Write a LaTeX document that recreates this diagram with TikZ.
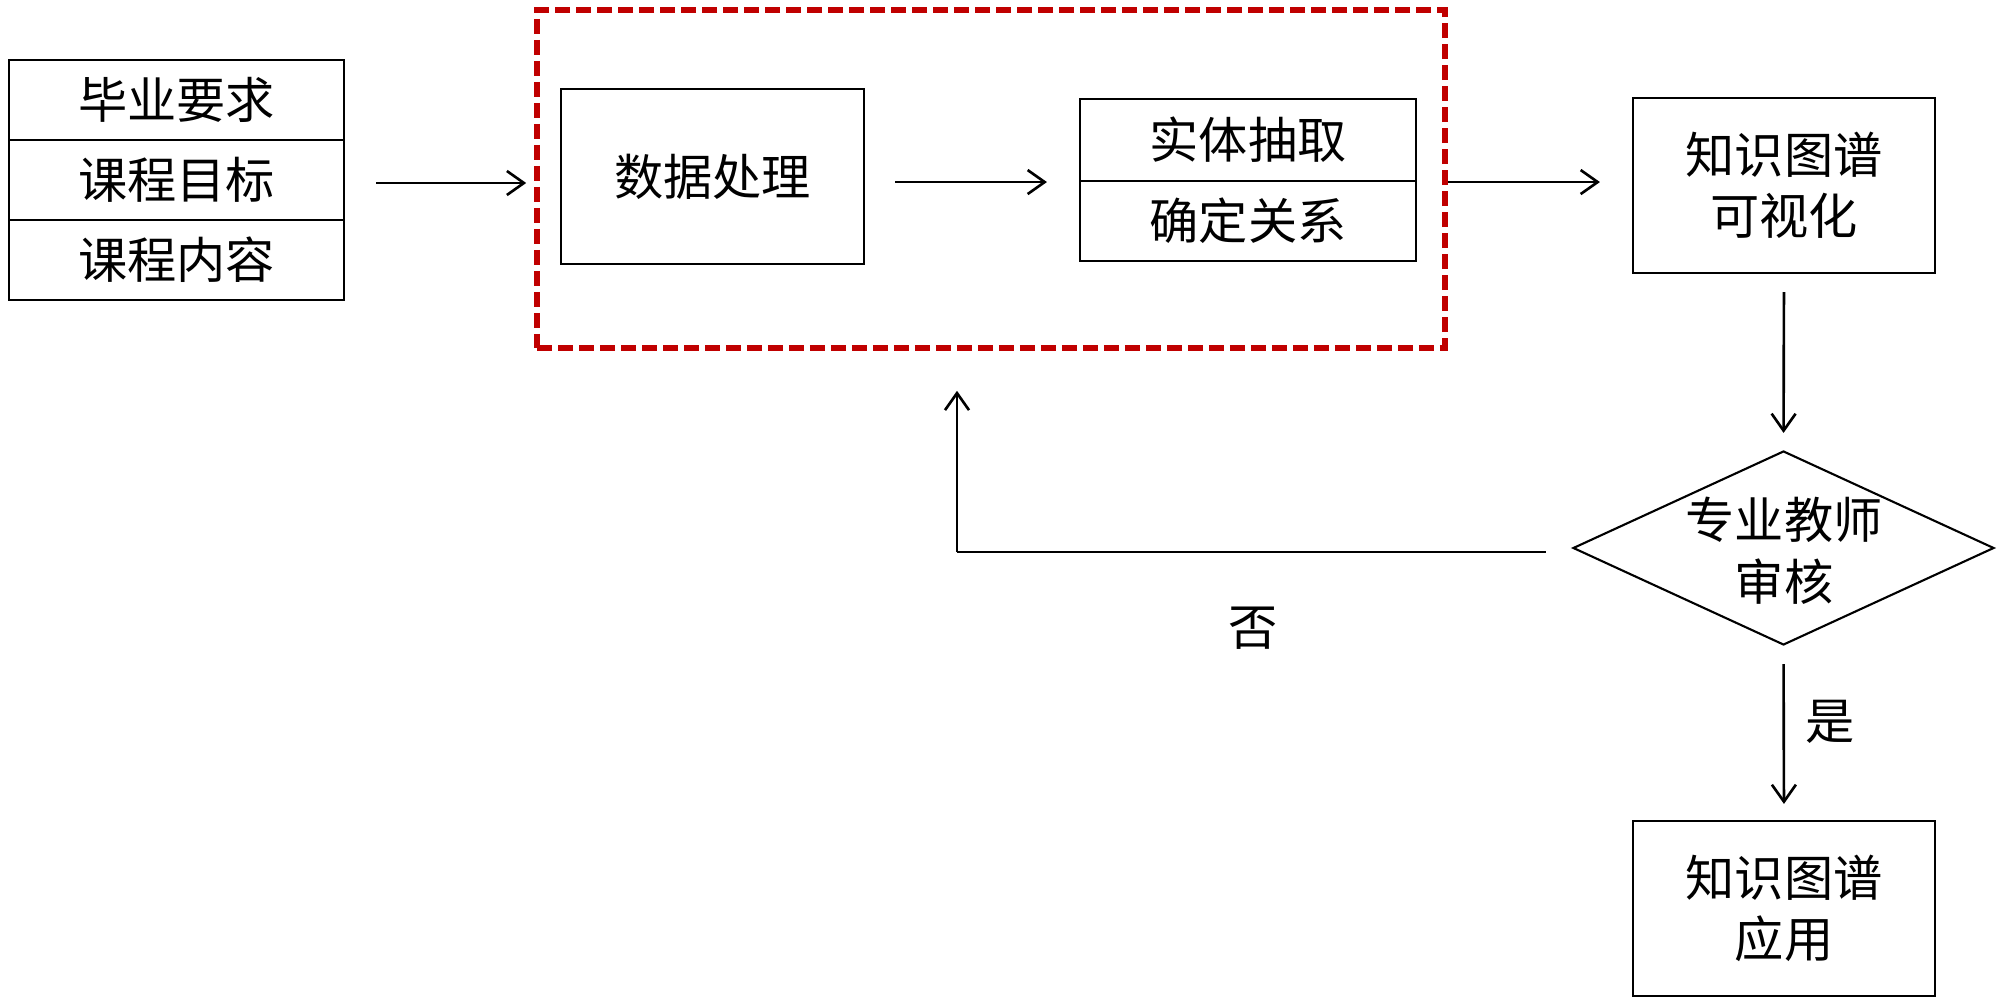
\documentclass[tikz,border=0pt]{standalone}
\usepackage{fontspec}
\newfontfamily\cjk{Noto Sans CJK SC}
\usetikzlibrary{arrows.meta,shapes.geometric,calc}
\definecolor{dred}{RGB}{192,0,0}
\begin{document}
\begin{tikzpicture}[
  every node/.style={font=\cjk\fontsize{14}{17.5}\selectfont, inner sep=0pt, align=center},
  box/.style={draw, line width=0.6pt},
  arr/.style={line width=0.75pt, -{Straight Barb[length=0.17cm, width=0.24cm, line width=0.75pt]}},
  redbox/.style={draw=dred, line width=1.6pt, dash pattern=on 0.15cm off 0.06cm}
]
\useasboundingbox (0,0) rectangle (20,-10.02);
% left stack
\node[box, minimum width=3.35cm, minimum height=0.8cm] (s1) at (1.765,-1.00) {毕业要求};
\node[box, minimum width=3.35cm, minimum height=0.8cm] (s2) at (1.765,-1.80) {课程目标};
\node[box, minimum width=3.35cm, minimum height=0.8cm] (s3) at (1.765,-2.60) {课程内容};
% red dashed group
\node[redbox, minimum width=9.08cm, minimum height=3.38cm] (grp) at (9.91,-1.79) {};
% data processing
\node[box, minimum width=3.03cm, minimum height=1.75cm] (dp) at (7.125,-1.765) {数据处理};
% entity stack
\node[box, minimum width=3.36cm, minimum height=0.82cm] (e1) at (12.48,-1.40) {实体抽取};
\node[box, minimum width=3.36cm, minimum height=0.80cm] (e2) at (12.48,-2.21) {确定关系};
% visualization
\node[box, minimum width=3.02cm, minimum height=1.75cm] (vis) at (17.84,-1.855) {知识图谱\\可视化};
% decision
\node[draw, diamond, line width=0.6pt, minimum width=4.21cm, minimum height=1.94cm] (dia) at (17.835,-5.48) {};
\node (diat) at (17.84,-5.51) {专业教师\\审核};
% application
\node[box, minimum width=3.02cm, minimum height=1.75cm] (app) at (17.84,-9.085) {知识图谱\\应用};
% labels
\node (no) at (12.53,-6.28) {否};
\node (yes) at (18.30,-7.22) {是};
% connectors
\draw[arr, shorten <=0.31cm, shorten >=0.08cm] ([yshift=-0.03cm]s2.east) -- ([yshift=-0.03cm]grp.west |- s2.east);
\draw[arr, shorten <=0.30cm, shorten >=0.32cm] (dp.east |- e1.south) -- (e1.south west);
\draw[arr, shorten >=0.32cm] (grp.east |- e1.south) -- (vis.west |- e1.south);
\draw[arr, shorten <=0.18cm, shorten >=0.17cm] (vis.south) -- (dia.north);
\draw[arr, shorten <=0.18cm, shorten >=0.16cm] (dia.south) -- (app.north);
\coordinate (corner) at (9.57,-5.52);
\draw[line width=0.75pt] ([xshift=-0.26cm]dia.west |- corner) -- (corner);
\draw[arr, shorten >=0.40cm] (corner) -- (corner |- grp.south);
\end{tikzpicture}
\end{document}
